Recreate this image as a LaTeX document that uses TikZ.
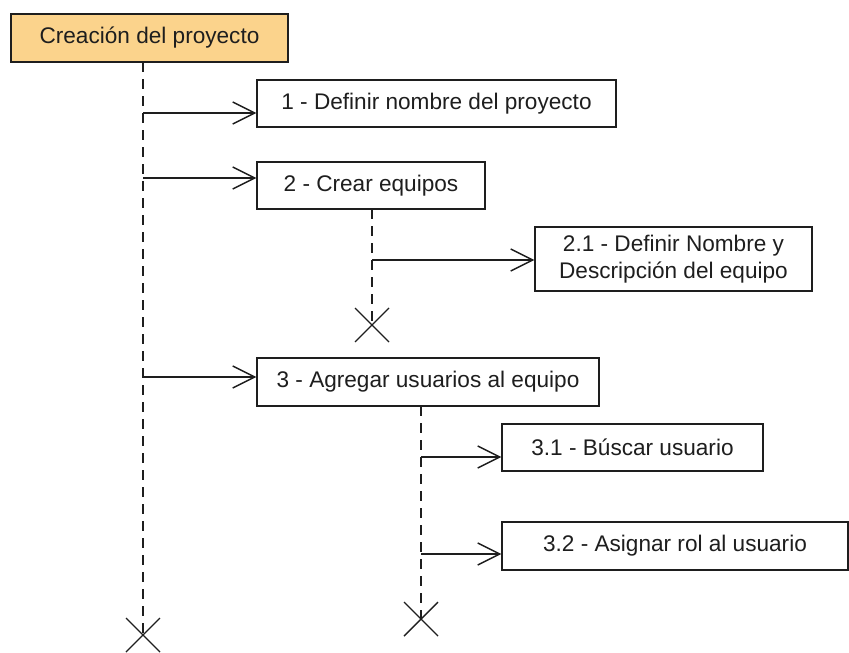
\documentclass[tikz,border=0pt]{standalone}
\usepackage{fontspec}
\setmainfont{Liberation Sans}
\usetikzlibrary{arrows.meta}
\definecolor{lifeorange}{RGB}{251,211,140}
\definecolor{ink}{RGB}{30,30,30}
\tikzset{
  box/.style={draw=ink, line width=1.4pt, fill=white, text=ink, inner sep=0pt,
    font=\fontsize{22.6}{27}\selectfont, align=center},
  headbox/.style={box, fill=lifeorange},
  lifeline/.style={draw=ink, line width=1.4pt, dash pattern=on 10pt off 7pt},
  msg/.style={draw=ink, line width=1.4pt, -{Straight Barb[length=22pt,width=22pt,line width=1.4pt]}},
  endx/.style={draw=ink, line width=1.4pt}
}
\begin{document}
\begin{tikzpicture}[x=1pt,y=-1pt]
\useasboundingbox (0,0) rectangle (849,653);
% boxes
\node[headbox, minimum width=277pt, minimum height=48pt] (a) at (149.5,38) {Creación del proyecto};
\node[box, minimum width=359pt, minimum height=47pt] (b1) at (436.5,103.5) {1 - Definir nombre del proyecto};
\node[box, minimum width=228pt, minimum height=47pt] (b2) at (371,185.5) {2 - Crear equipos};
\node[box, minimum width=277pt, minimum height=64pt] (b21) at (673.5,259) {2.1 - Definir Nombre y\\Descripción del equipo};
\node[box, minimum width=342pt, minimum height=48pt] (b3) at (428,382) {3 - Agregar usuarios al equipo};
\node[box, minimum width=261pt, minimum height=47pt] (b31) at (632.5,447.5) {3.1 - Búscar usuario};
\node[box, minimum width=346pt, minimum height=48pt] (b32) at (675,546) {3.2 - Asignar rol al usuario};
% lifeline coordinates
\coordinate (l1top) at (143,62);
\coordinate (l1end) at (143,635);
\coordinate (l2top) at (372,209);
\coordinate (l2end) at (372,325);
\coordinate (l3top) at (421,406);
\coordinate (l3end) at (421,619);
% message heights
\coordinate (m1) at (0,113);
\coordinate (m2) at (0,178);
\coordinate (m21) at (0,260);
\coordinate (m3) at (0,377);
\coordinate (m31) at (0,457);
\coordinate (m32) at (0,554);
% lifelines
\draw[lifeline] (l1top) -- (l1end);
\draw[lifeline] (l2top) -- (l2end);
\draw[lifeline] (l3top) -- (l3end);
% destruction marks
\foreach \p in {l1end,l2end,l3end}{
  \draw[endx] ([shift={(-17,-17)}]\p) -- ([shift={(17,17)}]\p);
  \draw[endx] ([shift={(-17,17)}]\p) -- ([shift={(17,-17)}]\p);
}
% messages
\draw[msg] (l1top |- m1) -- (b1.west |- m1);
\draw[msg] (l1top |- m2) -- (b2.west |- m2);
\draw[msg] (l2top |- m21) -- (b21.west |- m21);
\draw[msg] (l1top |- m3) -- (b3.west |- m3);
\draw[msg] (l3top |- m31) -- (b31.west |- m31);
\draw[msg] (l3top |- m32) -- (b32.west |- m32);
\end{tikzpicture}
\end{document}
